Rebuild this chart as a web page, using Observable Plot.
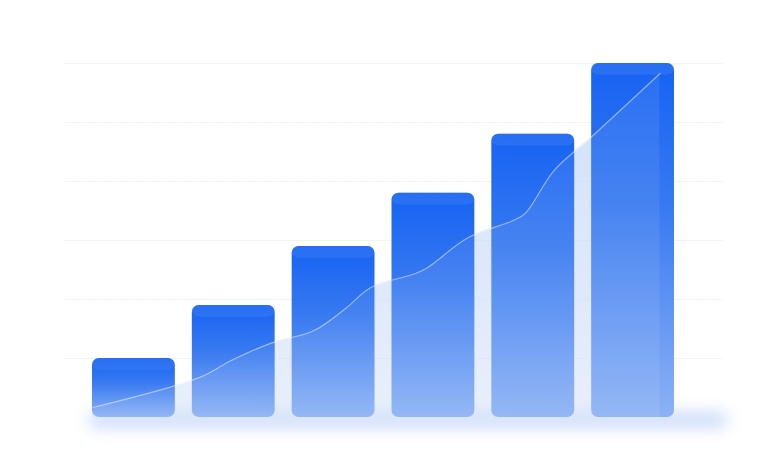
<!DOCTYPE html>
<html><head><meta charset="utf-8">
<script src="https://cdn.jsdelivr.net/npm/d3@7"></script>
<script src="https://cdn.jsdelivr.net/npm/@observablehq/plot@0.6"></script>
<style>
html,body{margin:0;padding:0;background:#fff;overflow:hidden;}
#chart svg{display:block;filter:blur(0.7px);}
</style>
</head><body><div id="chart"></div><script>
// Data
const categories = [0, 1, 2, 3, 4, 5];
const values = [10, 19, 29, 38, 48, 60];
const trendPos = [0.09, 1.16, 1.48, 1.89, 2.30, 2.63, 2.87, 3.32, 3.44, 3.85, 4.30, 4.42, 4.71, 5.08, 5.77];
const trendVal = [1.7, 6.8, 9.7, 12.7, 14.7, 18.6, 22.0, 24.4, 25.4, 30.5, 33.4, 34.6, 41.9, 47.5, 58.3];
const gridTicks = [10, 20, 30, 40, 50, 60];

const bars = categories.map((c, i) => ({x1: c, x2: c + 1, v: values[i]}));
const trend = trendPos.map((p, i) => ({p, v: trendVal[i]}));

function defsMark(index, scales) {
  const defs = d3.create("svg:defs");
  const g = defs.append("linearGradient").attr("id", "barGrad")
    .attr("x1", 0).attr("y1", 0).attr("x2", 0).attr("y2", 1);
  g.append("stop").attr("offset", "0%").attr("stop-color", "#1662f3");
  g.append("stop").attr("offset", "40%").attr("stop-color", "#3779f0");
  g.append("stop").attr("offset", "100%").attr("stop-color", "#8cb2f5");
  const a = defs.append("linearGradient").attr("id", "areaGrad")
    .attr("x1", 0).attr("y1", 0).attr("x2", 0).attr("y2", 1);
  a.append("stop").attr("offset", "0%").attr("stop-color", "#bcd1f8").attr("stop-opacity", 0.75);
  a.append("stop").attr("offset", "100%").attr("stop-color", "#d2e0f9").attr("stop-opacity", 0.55);
  const f = defs.append("filter").attr("id", "glowBlur")
    .attr("x", "-20%").attr("y", "-300%").attr("width", "140%").attr("height", "700%");
  f.append("feGaussianBlur").attr("stdDeviation", 8);
  return defs.node();
}

function glowMark(index, scales) {
  const x = scales.x, y = scales.y;
  const g = d3.create("svg:g");
  g.append("rect")
    .attr("x", x(0.05)).attr("width", x(6.45) - x(0.05))
    .attr("y", y(0) - 4).attr("height", 14)
    .attr("rx", 7)
    .attr("fill", "#6f9df2").attr("opacity", 0.4)
    .attr("filter", "url(#glowBlur)");
  return g.node();
}

const chart = Plot.plot({
  width: 768,
  height: 476,
  marginLeft: 83.5,
  marginRight: 85.5,
  marginTop: 63,
  marginBottom: 59,
  x: {domain: [0, 6], axis: null},
  y: {domain: [0, 60], axis: null},
  style: {background: "#fff", overflow: "visible"},
  marks: [
    defsMark,
    Plot.ruleY(gridTicks, {stroke: "#f1f3f7", strokeWidth: 1.2, insetLeft: -20, insetRight: -40}),
    glowMark,
    Plot.areaY(trend, {x: "p", y: "v", curve: "catmull-rom", fill: "url(#areaGrad)"}),
    Plot.rectY(bars, {x1: "x1", x2: "x2", y: "v", insetLeft: 8.5, insetRight: 8.5, rx: 7, fill: "url(#barGrad)"}),
    Plot.rectY(bars, {x1: "x1", x2: "x2", y1: d => d.v - 2.0, y2: "v", insetLeft: 8.5, insetRight: 8.5, rx: 7, fill: "#4a86f3", fillOpacity: 0.35}),
    Plot.areaY(trend, {x: "p", y: "v", curve: "catmull-rom", fill: "#ffffff", fillOpacity: 0.08}),
    Plot.lineY(trend, {x: "p", y: "v", curve: "catmull-rom", stroke: "#ffffff", strokeOpacity: 0.45, strokeWidth: 1.2})
  ]
});
document.getElementById("chart").appendChild(chart);
</script></body></html>
